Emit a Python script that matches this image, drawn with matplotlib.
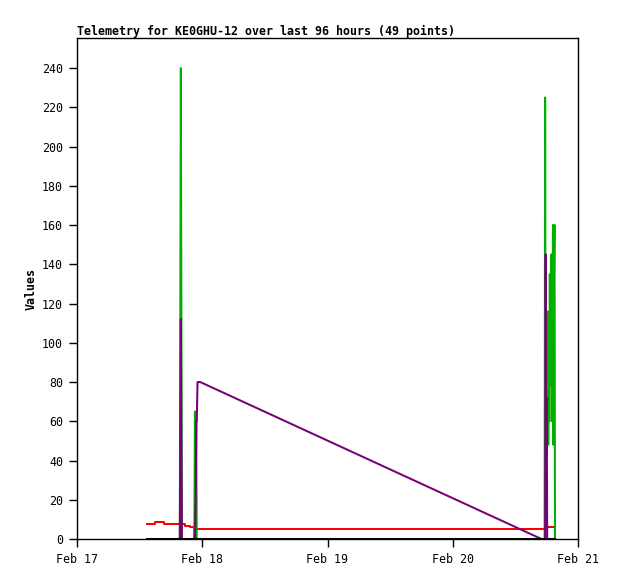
import matplotlib
matplotlib.use("Agg")
import matplotlib.pyplot as plt

# hours since Feb 17 00:00
hours = [13.4, 14.9, 15.0, 16.5, 16.6, 18.0, 19.7, 19.8, 19.9, 20.0,
         20.1, 20.6, 20.7, 21.5, 21.6, 22.4, 22.5, 22.6, 22.75, 22.85,
         22.95, 23.1, 23.6,
         89.0, 89.5, 89.6, 89.7, 89.8, 89.9, 90.0, 90.1, 90.2, 90.3,
         90.4, 90.5, 90.6, 90.7, 90.8, 90.9, 91.0, 91.1, 91.2, 91.3,
         91.4, 91.5, 91.6]

red = [7.6, 7.6, 8.6, 8.6, 7.6, 7.6, 7.6, 7.6, 7.6, 7.6,
       7.6, 7.6, 6.8, 6.8, 6.2, 6.2, 5.1, 5.1, 5.1, 5.1,
       5.1, 5.1, 5.1,
       5.1, 5.1, 6.1, 6.1, 6.1, 6.1, 6.1, 6.1, 6.1, 6.1,
       6.1, 6.1, 6.1, 6.1, 6.1, 6.1, 6.1, 6.1, 6.1, 6.1,
       6.1, 6.1, 6.1]

green = [0, 0, 0, 0, 0, 0, 0, 121, 240, 121,
         0, 0, 0, 0, 0, 0, 9, 65, 21, 60,
         0, 0, 0,
         0, 0, 0, 225, 48, 78, 42, 60, 116, 48,
         98, 60, 135, 78, 116, 145, 60, 98, 160, 48,
         135, 160, 0]

purple = [0, 0, 0, 0, 0, 0, 0, 57, 112, 57,
          0, 0, 0, 0, 0, 0, 0, 0, 20, 60,
          60, 80, 80,
          0, 0, 0, 0, 145, 42, 72, 0, 0, 0,
          0, 0, 0, 0, 0, 0, 0, 0, 0, 0,
          0, 0, 0]

black = [0] * len(hours)

day_ticks = [0, 24, 48, 72, 96]
day_labels = ["Feb 17", "Feb 18", "Feb 19", "Feb 20", "Feb 21"]
y_ticks = list(range(0, 241, 20))

fig = plt.figure(figsize=(6.18, 5.79), dpi=100)
ax = fig.add_axes([77 / 618, 40 / 579, 501 / 618, 501 / 579])

font = {"family": "DejaVu Sans Mono", "size": 8.4}
lw = 1.45

ax.plot(hours[:-1], red[:-1], color="#ff0000", lw=lw, drawstyle="steps-post")
ax.plot(hours, green, color="#00b000", lw=lw)
ax.plot(hours[:-3], purple[:-3], color="#780078", lw=lw)
ax.plot(hours, black, color="black", lw=lw)

ax.set_xlim(0, 96)
ax.set_ylim(0, 255.3)
ax.set_xticks(day_ticks)
ax.set_xticklabels(day_labels, **font)
ax.set_yticks(y_ticks)
ax.set_yticklabels([str(v) for v in y_ticks], **font)
ax.tick_params(direction="out", length=6, width=1, pad=4)
for s in ax.spines.values():
    s.set_linewidth(1)

ax.set_ylabel("Values", fontweight="bold", labelpad=3, **font)
ax.set_title("Telemetry for KE0GHU-12 over last 96 hours (49 points)",
             loc="left", fontweight="bold", pad=2, **font)

fig.savefig("out.png", dpi=100)
